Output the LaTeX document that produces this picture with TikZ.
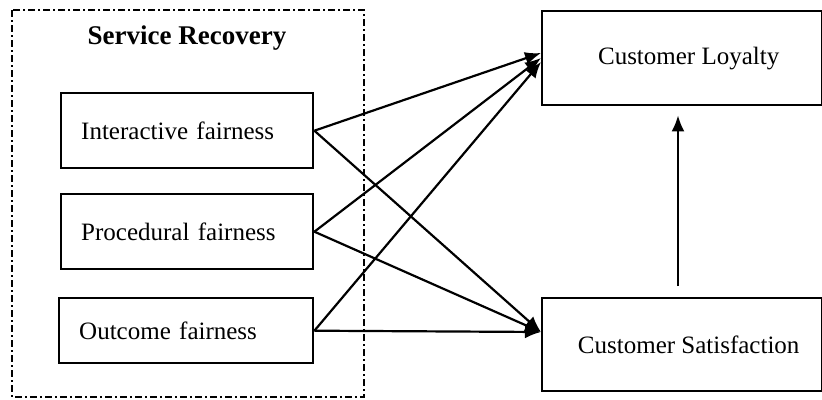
\documentclass[tikz,border=0pt]{standalone}
\usepackage{fontspec}
\setmainfont{Liberation Serif}
\usetikzlibrary{arrows.meta}
\begin{document}
\begin{tikzpicture}[x=1pt,y=-1pt,
  lbox/.style={draw, line width=2.4pt, rectangle, anchor=north west, align=left,
    inner xsep=20pt, inner ysep=0pt, font=\fontsize{25}{30}\selectfont},
  rbox/.style={draw, line width=2.4pt, rectangle, anchor=north west, align=center,
    inner sep=0pt, minimum width=280pt, font=\fontsize{25}{30}\selectfont},
  conn/.style={line width=2.2pt, -{Latex[length=16pt,width=13pt]}},
  grp/.style={line width=2pt, dash pattern=on 7pt off 3pt on 2pt off 3pt}]
\useasboundingbox (0,0) rectangle (822,399);
\draw[grp] (12,10) rectangle (364,397);
\node[font=\fontsize{27}{32}\selectfont\bfseries] (title) at (187,38) {Service Recovery};
\node[lbox, text width=212pt, minimum height=75pt] (inter) at (60,92) {Interactive fairness};
\node[lbox, text width=212pt, minimum height=75pt] (proc) at (60,193) {Procedural fairness};
\node[lbox, text width=214pt, minimum height=65pt] (out) at (58,297) {Outcome fairness};
\node[rbox, minimum height=94pt] (loy) at (541,10) {\hspace{13pt}Customer Loyalty};
\node[rbox, minimum height=93pt] (sat) at (541,297) {\hspace{13pt}Customer Satisfaction};
\coordinate (l1) at (541,53);
\coordinate (l2) at (541,58);
\coordinate (l3) at (541,62);
\coordinate (s1) at (541,332);
\draw[conn] (inter.east) -- (l1);
\draw[conn] (proc.east) -- (l2);
\draw[conn] (out.east) -- (l3);
\draw[conn] (inter.east) -- (s1);
\draw[conn] (proc.east) -- (s1);
\draw[conn] (out.east) -- (s1);
\draw[conn, shorten <=11pt, shorten >=9pt] (sat.north -| 678,0) -- (loy.south -| 678,0);
\end{tikzpicture}
\end{document}
